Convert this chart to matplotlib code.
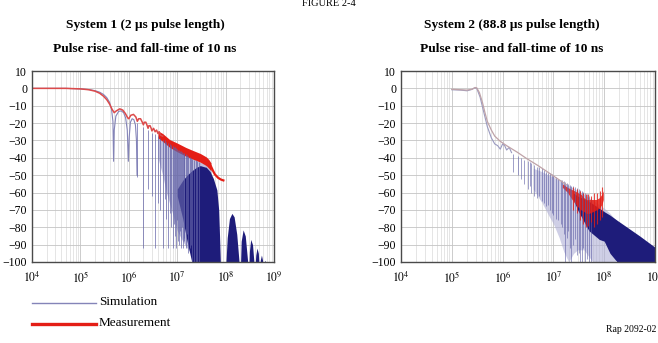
import numpy as np
import matplotlib
matplotlib.use('Agg')
import matplotlib.pyplot as plt
from matplotlib.lines import Line2D
from matplotlib.ticker import FixedLocator, FuncFormatter

plt.rcParams['font.family'] = ['Liberation Serif', 'DejaVu Serif']
plt.rcParams['mathtext.fontset'] = 'stix'

# ---- SYSTEM 1 (2 us pulse) ----
# simulation, first lobes (Hz, dB)
s1_f = [1e4, 5e4, 1e5, 1.5e5, 2e5, 2.5e5, 3e5, 3.5e5, 4e5, 4.4e5, 4.7e5, 4.85e5,
        5.0e5, 5.4e5, 6.2e5, 7e5, 7.8e5, 8.6e5, 9.3e5, 9.8e5, 1.02e6, 1.08e6,
        1.17e6, 1.27e6, 1.37e6, 1.44e6, 1.48e6]
s1_db = [0, 0, -0.3, -0.7, -1.3, -2.2, -3.5, -5.3, -8, -12, -19, -42,
         -24, -16, -13.2, -13, -14, -17, -24, -42, -28, -19.5,
         -17.5, -18, -21, -30, -50]
# nulls: frequency (MHz), lobe top, null depth (dB)
s1_null_f = [1.5, 2.0, 2.5, 3.0, 3.5, 4.0, 4.5, 5.0, 5.5, 6.0, 6.5, 7.0, 7.5, 8.0,
             8.5, 9.0, 9.5, 10, 10.5, 11, 11.5, 12, 12.5, 13, 13.5, 14, 15, 16,
             17, 18, 19, 20, 22, 24, 26, 28]
s1_null_top = [-20, -22.5, -24, -25.5, -26.5, -27.5, -28.5, -29.5, -30, -31, -31.5,
               -32, -32.5, -33, -33.5, -34, -34.5, -35, -35.3, -35.6, -36, -36.3,
               -36.6, -37, -37.3, -37.6, -38, -38.5, -39, -39.5, -40, -40.5, -41,
               -41.5, -42, -42.5]
s1_null_bot = [-51, -92, -58, -62, -92, -66, -70, -92, -64, -75, -92, -72, -80, -92,
               -78, -85, -92, -76, -88, -90, -82, -92, -80, -92, -86, -88, -92, -84,
               -95, -92, -90, -100, -100, -100, -100, -100]
# dense spike haze (Hz, dB)
s1_haze_f = [4e6, 5e6, 6e6, 8e6, 1e7, 1.3e7, 1.6e7, 2e7, 2.5e7, 3e7, 4e7, 5e7]
s1_haze_top = [-28, -30, -31, -33, -35, -37, -38.5, -40, -41.5, -42.5, -44, -47]
s1_haze_bot = [-40, -50, -60, -72, -82, -88, -92, -95, -100, -100, -100, -100]
# dense main region (Hz, dB)
s1_dark_f = [1e7, 1.3e7, 1.6e7, 2e7, 2.5e7, 3e7, 4e7, 4.8e7, 5.6e7, 6.6e7, 7.2e7,
             7.5e7, 7.8e7]
s1_dark_top = [-58, -53, -50, -47.5, -45.5, -44.5, -45.5, -48, -52, -58.5, -70, -85, -100]
s1_dark_bot = [-62, -75, -88, -100, -100, -100, -100, -100, -100, -100, -100, -100, -100]
# side lobes above 100 MHz
s1_lobe_f = [1.0e8, 1.08e8, 1.2e8, 1.35e8, 1.5e8, 1.7e8, 1.95e8,
             2.02e8, 2.1e8, 2.3e8, 2.55e8, 2.95e8,
             3.02e8, 3.1e8, 3.3e8, 3.6e8, 3.95e8,
             4.03e8, 4.2e8, 4.45e8, 4.75e8, 4.95e8,
             5.05e8, 5.2e8, 5.5e8, 5.8e8, 5.95e8,
             6.05e8, 6.3e8, 6.6e8, 6.9e8]
s1_lobe_db = [-104, -86, -75, -72, -74, -84, -104,
              -104, -88, -81.5, -85, -104,
              -104, -94, -87, -90, -104,
              -104, -96, -92, -95, -104,
              -104, -99, -96, -99, -104,
              -104, -100, -99, -104]
# measurement (Hz, dB): scalloped start, then noisy band, then tail
m1_f = [1e4, 5e4, 1e5, 1.5e5, 2e5, 2.5e5, 3e5, 3.5e5, 4e5, 4.5e5, 5e5, 5.5e5,
        6.5e5, 7.5e5, 8.5e5, 9.5e5, 1.0e6, 1.1e6, 1.25e6, 1.4e6, 1.5e6, 1.6e6,
        1.75e6, 1.9e6, 2.0e6, 2.1e6, 2.25e6, 2.4e6, 2.5e6, 2.6e6, 2.75e6, 2.9e6,
        3.0e6, 3.25e6, 3.5e6, 3.75e6, 4e6, 4.25e6, 4.5e6, 5e6]
m1_db = [0, 0, -0.3, -0.8, -1.6, -2.8, -4.5, -6.5, -9, -12, -14, -13,
         -11.8, -12.5, -14.5, -17, -17.5, -15.5, -15, -16.5, -19, -17.5,
         -17.5, -19.5, -21, -19.5, -19.5, -21.5, -23, -21.5, -21.5, -23,
         -24.5, -23, -25, -24, -26, -25, -27, -27.5]
m1_band_f = [4e6, 5e6, 7e6, 1e7, 1.5e7, 2e7, 3e7, 4e7, 4.5e7, 5e7]
m1_band_hi = [-24.5, -26, -29.5, -31.5, -34, -35.5, -37.5, -39.5, -41, -43]
m1_band_lo = [-28.5, -30.5, -34, -36.5, -39, -40.5, -42.5, -44.5, -46, -47.5]
m1_tail_f = [5e7, 5.5e7, 6e7, 7e7, 8e7, 9e7]
m1_tail_db = [-45, -47.5, -49.5, -51.5, -52.5, -53]

# ---- SYSTEM 2 (88.8 us pulse) ----
s2_f = [1e5, 1.5e5, 2e5, 2.5e5, 2.8e5, 3.1e5, 3.6e5, 4.2e5, 5e5, 6e5, 7e5, 8e5,
        9e5, 1.0e6, 1.1e6, 1.2e6, 1.35e6, 1.5e6]
s2_db = [-0.8, -1, -1.4, -0.6, 0.3, 0, -5, -13, -22, -28.5, -32, -33,
         -35, -32, -33, -35.5, -34, -37]
s2_null_f = [1.6, 2.0, 2.3, 2.6, 3.1, 3.4, 3.7, 4.2, 4.7, 5.3, 5.9, 6.5, 7.1, 7.8,
             8.5, 9.2, 10, 11, 12.6, 13.8, 15, 16, 17, 18.2, 19.5, 21, 22.4, 24.5,
             27, 29.5, 32, 34, 36, 39, 42, 46, 50, 55]
s2_null_top = [-38, -39, -40, -41, -42, -42.5, -43, -44, -45, -45.5, -46, -47, -48,
               -48.5, -49, -49.5, -50, -51, -52, -52.5, -53, -53.5, -54, -54.5, -55,
               -55.5, -56, -56.5, -57, -57.5, -58, -58.5, -59, -59.5, -60, -61, -62,
               -63]
s2_null_bot = [-48, -50, -52, -55, -58, -56, -60, -62, -63, -62, -65, -66, -68, -67,
               -70, -72, -73, -75, -76, -78, -80, -84, -100, -86, -82, -92, -100, -90,
               -87, -96, -95, -100, -100, -92, -100, -98, -100, -100]
s2_haze_f = [4e6, 6e6, 8e6, 1e7, 1.3e7, 1.6e7, 2e7, 2.5e7, 3e7, 4e7, 5e7, 6e7, 8e7,
             1e8, 1.3e8, 1.7e8]
s2_haze_top = [-46, -48, -50, -51, -53, -54.5, -56, -57.5, -59, -61, -63, -64.5, -67,
               -69, -72, -76]
s2_haze_bot = [-58, -66, -73, -78, -86, -94, -100, -95, -93, -93, -97, -100, -100,
               -100, -100, -100]
s2_dark_f = [2.4e7, 3e7, 5e7, 8e7, 1e8, 1.3e8, 1.8e8, 3e8, 5e8, 1e9]
s2_dark_top = [-60, -62, -65, -69, -71, -73, -76, -80.5, -85, -91.5]
s2_dark_bot = [-63, -70, -82, -87, -88, -95, -100, -100, -100, -100]
m2_f = [1e5, 1.5e5, 2e5, 2.5e5, 2.9e5, 3.1e5, 3.5e5, 4e5, 4.5e5, 5e5, 6e5, 7e5,
        9e5, 1.2e6, 2e6, 3e6, 5e6, 8e6, 1.2e7, 1.8e7]
m2_db = [-0.5, -0.8, -1, -0.5, 0.5, 0.3, -2.5, -8, -14, -19, -24, -27.5,
         -30.5, -33, -37, -40.5, -44.5, -48.5, -52, -55.5]
m2_band_f = [1.5e7, 1.9e7, 2.2e7, 2.6e7, 3e7, 3.5e7, 4e7, 4.5e7, 5e7, 6e7, 7e7, 8e7,
             9e7, 9.6e7]
m2_band_hi = [-55, -57, -58, -59, -60, -61, -63, -64, -64, -64, -64, -63, -61, -59]
m2_band_lo = [-57, -60, -63, -66, -68, -70, -71, -72, -72, -71, -70, -69, -67, -64]
m2_noise_f = [2.4e7, 2.9e7, 3.3e7, 3.8e7, 4.3e7, 4.9e7, 5.6e7, 6.3e7, 7.2e7, 8.2e7, 9e7]
m2_noise_hi = [-57, -58, -59, -60, -61, -61, -62, -60, -60, -59, -57]
m2_noise_lo = [-70, -72, -76, -78, -80, -79, -77, -80, -78, -76, -74]

decades = [1e4, 1e5, 1e6, 1e7, 1e8, 1e9]
db_ticks = list(range(-100, 11, 10))

BLUE_LINE = '#8484b8'
SPIKE = '#6060a6'
DARK = '#1e1c7a'
RED = '#e41e16'


def style_axes(ax):
    ax.set_xscale('log')
    ax.set_xlim(1e4, 1e9)
    ax.set_ylim(-100, 10)
    ax.xaxis.set_major_locator(FixedLocator(decades))
    ax.xaxis.set_major_formatter(FuncFormatter(lambda v, p: r'$10^{%d}$' % round(np.log10(v))))
    ax.set_yticks(db_ticks)
    ax.grid(which='major', color='#c4c4c4', lw=0.6)
    ax.grid(which='minor', axis='x', color='#dadada', lw=0.5)
    ax.tick_params(which='both', length=0, labelsize=8.5)
    ax.tick_params(axis='x', pad=6)
    for s in ax.spines.values():
        s.set_color('#4a4a4a')
        s.set_linewidth(1.0)
    ax.set_axisbelow(True)


fig = plt.figure(figsize=(6.58, 3.43), dpi=100)
ax1 = fig.add_axes([32 / 658, 1 - 262 / 343, 242 / 658, 191 / 343])
ax2 = fig.add_axes([401 / 658, 1 - 262 / 343, 254 / 658, 191 / 343])
style_axes(ax1)
style_axes(ax2)

# system 1
ax1.fill_between(s1_haze_f, s1_haze_bot, s1_haze_top, color='#7272b4', lw=0, alpha=0.45)
ax1.plot(s1_f, s1_db, color=BLUE_LINE, lw=0.8)
ax1.vlines(np.array(s1_null_f) * 1e6, s1_null_bot, s1_null_top, color=SPIKE, lw=0.6, alpha=0.8)
ax1.fill_between(s1_dark_f, s1_dark_bot, s1_dark_top, color=DARK, lw=0)
ax1.fill_between(s1_lobe_f, -104, s1_lobe_db, color=DARK, lw=0)
ax1.plot(m1_f, m1_db, color='#dc4a4a', lw=1.1)
ax1.fill_between(m1_band_f, m1_band_lo, m1_band_hi, color=RED, lw=0)
ax1.plot(m1_tail_f, m1_tail_db, color=RED, lw=1.6)

# system 2
ax2.fill_between(s2_haze_f, s2_haze_bot, s2_haze_top, color='#b0b0d6', lw=0, alpha=0.6)
ax2.plot(s2_f, s2_db, color='#9a9ac0', lw=0.8)
ax2.vlines(np.array(s2_null_f) * 1e6, s2_null_bot, s2_null_top, color=SPIKE, lw=0.6, alpha=0.7)
ax2.fill_between(s2_dark_f, s2_dark_bot, s2_dark_top, color=DARK, lw=0)
ax2.plot(m2_f, m2_db, color='#bfa3a8', lw=0.9)
ax2.fill_between(m2_band_f, m2_band_lo, m2_band_hi, color=RED, lw=0, alpha=0.85)
ax2.vlines(m2_noise_f, m2_noise_lo, m2_noise_hi, color=RED, lw=0.8, alpha=0.8)

# titles
fig.text(0.5, 1 - 3 / 343, 'FIGURE 2-4', ha='center', va='center', fontsize=7.5)
fig.text(145 / 658, 1 - 25 / 343, 'System 1 (2 \u00b5s pulse length)', ha='center',
         va='center', fontsize=9.6, fontweight='bold')
fig.text(145 / 658, 1 - 49 / 343, 'Pulse rise- and fall-time of 10 ns', ha='center',
         va='center', fontsize=9.6, fontweight='bold')
fig.text(512 / 658, 1 - 25 / 343, 'System 2 (88.8 \u00b5s pulse length)', ha='center',
         va='center', fontsize=9.6, fontweight='bold')
fig.text(512 / 658, 1 - 49 / 343, 'Pulse rise- and fall-time of 10 ns', ha='center',
         va='center', fontsize=9.6, fontweight='bold')

# legend
fig.add_artist(Line2D([32 / 658, 96 / 658], [1 - 303 / 343] * 2, color=BLUE_LINE, lw=1.0))
fig.add_artist(Line2D([32 / 658, 96 / 658], [1 - 324 / 343] * 2, color=RED, lw=2.4))
fig.text(99 / 658, 1 - 302 / 343, 'Simulation', va='center', fontsize=9.5)
fig.text(99 / 658, 1 - 323 / 343, 'Measurement', va='center', fontsize=9.5)
fig.text(656 / 658, 1 - 329 / 343, 'Rap 2092-02', ha='right', va='center', fontsize=7)

fig.savefig('out.png', dpi=100)
